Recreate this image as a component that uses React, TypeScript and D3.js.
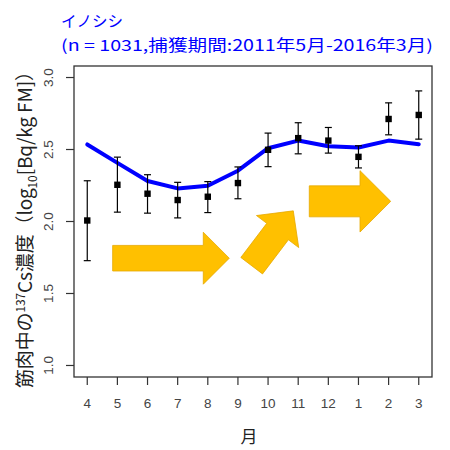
import * as d3 from 'd3'

// months of the capture season (April -> March)
const months = ['4', '5', '6', '7', '8', '9', '10', '11', '12', '1', '2', '3']
// monthly mean log10 137Cs concentration and error bar ends
const means = [2.007, 2.255, 2.193, 2.149, 2.172, 2.267, 2.498, 2.579, 2.562, 2.449, 2.712, 2.740]
const upper = [2.283, 2.447, 2.325, 2.272, 2.277, 2.379, 2.614, 2.686, 2.653, 2.526, 2.824, 2.907]
const lower = [1.728, 2.065, 2.058, 2.025, 2.062, 2.158, 2.381, 2.470, 2.475, 2.372, 2.602, 2.572]
// fitted seasonal curve
const fitted = [2.535, 2.407, 2.281, 2.230, 2.248, 2.353, 2.509, 2.562, 2.523, 2.514, 2.562, 2.537]
const yTicks = [1.0, 1.5, 2.0, 2.5, 3.0]

// annotation arrows: tail / tip in (month index, value), widths in px
const arrows = [
  { tail: [0.843, 1.745], tip: [4.713, 1.745], body: 25.6, head: 52, headLen: 26 },
  { tail: [5.456, 1.693], tip: [6.837, 2.074], body: 27.2, head: 53, headLen: 26 },
  { tail: [7.368, 2.14], tip: [10.07, 2.14], body: 31, head: 61.4, headLen: 30.7 },
]

const W = 450
const H = 450
const box = { left: 74, right: 432, top: 66, bottom: 377 }

export default function App() {
  const x = d3.scaleLinear().domain([-0.44, 11.44]).range([box.left, box.right])
  const y = d3.scaleLinear().domain([0.92, 3.08]).range([box.bottom, box.top])

  const line = d3.line<number>()
    .x((_, i) => x(i))
    .y(d => y(d))

  function arrowPath(a: typeof arrows[number]) {
    const x0 = x(a.tail[0]), y0 = y(a.tail[1])
    const x1 = x(a.tip[0]), y1 = y(a.tip[1])
    const len = Math.hypot(x1 - x0, y1 - y0)
    const ux = (x1 - x0) / len, uy = (y1 - y0) / len
    const nx = -uy, ny = ux
    const bx = x1 - ux * a.headLen, by = y1 - uy * a.headLen
    const b = a.body / 2, h = a.head / 2
    const pts = [
      [x0 + nx * b, y0 + ny * b],
      [bx + nx * b, by + ny * b],
      [bx + nx * h, by + ny * h],
      [x1, y1],
      [bx - nx * h, by - ny * h],
      [bx - nx * b, by - ny * b],
      [x0 - nx * b, y0 - ny * b],
    ]
    return 'M' + pts.map(p => p.join(',')).join('L') + 'Z'
  }

  const numFont = '"Liberation Sans", Arial, sans-serif'
  const jpFont = '"Noto Sans CJK JP", sans-serif'

  return (
    <svg width={W} height={H} style={{ position: 'absolute', left: 0, top: 0, background: '#fff' }}>
      {/* title */}
      <text x={61} y={27} fill="#0000ff" fontSize={15.5} fontFamily={jpFont}>イノシシ</text>
      <text x={61} y={51} fill="#0000ff" fontSize={15.5} fontFamily={jpFont}
        textLength={372} lengthAdjust="spacingAndGlyphs">(n = 1031,捕獲期間:2011年5月-2016年3月)</text>

      {/* arrows */}
      {arrows.map((a, i) => (
        <path key={i} d={arrowPath(a)} fill="#ffc000" stroke="#e6a800" strokeWidth={0.8} />
      ))}

      {/* fitted line */}
      <path d={line(fitted) ?? ''} fill="none" stroke="#0000ff" strokeWidth={4} strokeLinejoin="round" strokeLinecap="round" />

      {/* error bars and points */}
      {means.map((m, i) => (
        <g key={i}>
          <line x1={x(i)} x2={x(i)} y1={y(lower[i])} y2={y(upper[i])} stroke="#000" strokeWidth={1.2} />
          <line x1={x(i) - 3.5} x2={x(i) + 3.5} y1={y(lower[i])} y2={y(lower[i])} stroke="#000" strokeWidth={1.2} />
          <line x1={x(i) - 3.5} x2={x(i) + 3.5} y1={y(upper[i])} y2={y(upper[i])} stroke="#000" strokeWidth={1.2} />
          <rect x={x(i) - 3.2} y={y(m) - 3.2} width={6.4} height={6.4} fill="#000" />
        </g>
      ))}

      {/* frame */}
      <rect x={box.left} y={box.top} width={box.right - box.left} height={box.bottom - box.top}
        fill="none" stroke="#333" strokeWidth={1.3} />

      {/* y axis */}
      {yTicks.map(t => (
        <g key={t}>
          <line x1={box.left - 8} x2={box.left} y1={y(t)} y2={y(t)} stroke="#333" strokeWidth={1.2} />
          <text transform={`translate(53,${y(t)}) rotate(-90)`} textAnchor="middle"
            fontSize={13.5} fontFamily={numFont} fill="#444">{t.toFixed(1)}</text>
        </g>
      ))}

      {/* x axis */}
      {months.map((m, i) => (
        <g key={m}>
          <line x1={x(i)} x2={x(i)} y1={box.bottom} y2={box.bottom + 8} stroke="#333" strokeWidth={1.2} />
          <text x={x(i)} y={408} textAnchor="middle" fontSize={13.5} fontFamily={numFont} fill="#444">{m}</text>
        </g>
      ))}

      {/* axis titles */}
      <text x={249} y={443} textAnchor="middle" fontSize={17} fontFamily={jpFont} fill="#222">月</text>
      <text transform={`translate(32,225) rotate(-90)`} textAnchor="middle" fontSize={19}
        fontFamily={jpFont} fill="#222" textLength={326} lengthAdjust="spacing">
        筋肉中の<tspan fontSize={12} dy={-7}>137</tspan><tspan dy={7}>Cs濃度（log</tspan>
        <tspan fontSize={12} dy={5}>10</tspan><tspan dy={-5}>{'[Bq/kg\u00a0FM]）'}</tspan>
      </text>
    </svg>
  )
}
